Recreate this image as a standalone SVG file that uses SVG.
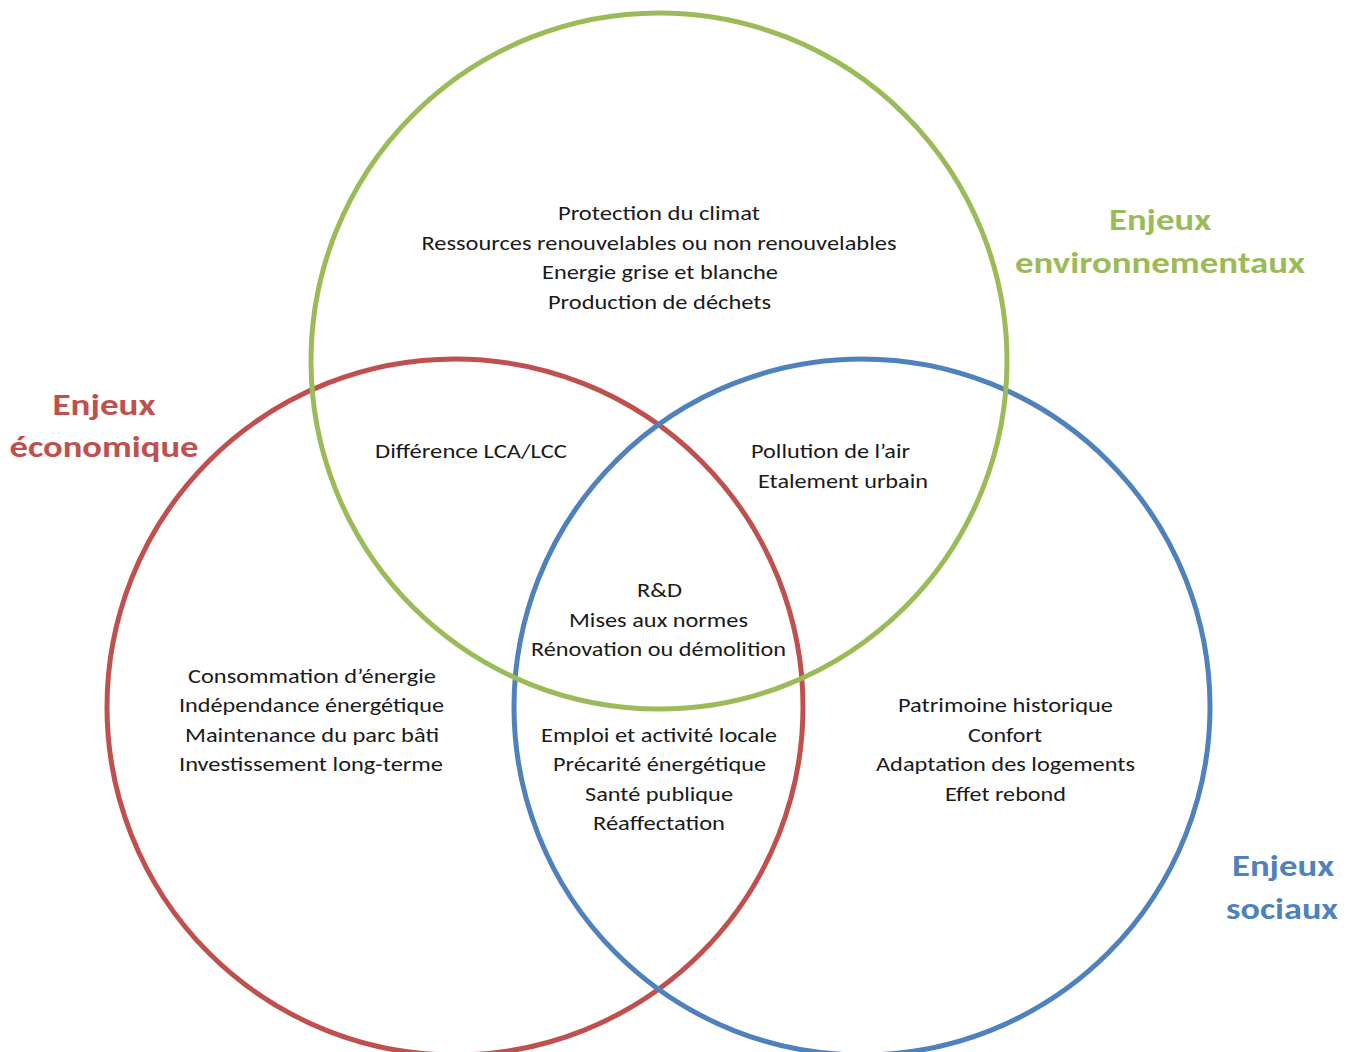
<svg xmlns="http://www.w3.org/2000/svg" width="1354" height="1052" viewBox="0 0 1354 1052">
<style>
.c{fill:none;stroke-width:5}
.t{font-family:Carlito,Lato,"Liberation Sans",sans-serif;font-size:19.5px;fill:#1a1a1a;text-anchor:middle}
.h{font-family:Carlito,Lato,"Liberation Sans",sans-serif;font-size:30px;font-weight:bold;text-anchor:middle}
</style>
<rect width="1354" height="1052" fill="#ffffff"/>
<g id="circles">
<circle id="circle-eco" class="c" cx="455" cy="707" r="348" stroke="#C0504D"/>
<circle id="circle-soc" class="c" cx="862" cy="707" r="348" stroke="#4F81BD"/>
<circle id="circle-env" class="c" cx="659" cy="361" r="348" stroke="#9BBB59"/>
</g>
<g id="label-env" class="h" fill="#9BBB59">
<text x="1160" y="230" textLength="102" lengthAdjust="spacingAndGlyphs">Enjeux</text>
<text x="1160" y="273" textLength="290" lengthAdjust="spacingAndGlyphs">environnementaux</text>
</g>
<g id="label-eco" class="h" fill="#C0504D">
<text x="104" y="415" textLength="103" lengthAdjust="spacingAndGlyphs">Enjeux</text>
<text x="104" y="457" textLength="189" lengthAdjust="spacingAndGlyphs">économique</text>
</g>
<g id="label-soc" class="h" fill="#4F81BD">
<text x="1283" y="876" textLength="102" lengthAdjust="spacingAndGlyphs">Enjeux</text>
<text x="1282" y="919" textLength="112" lengthAdjust="spacingAndGlyphs">sociaux</text>
</g>
<g id="region-env" class="t">
<text x="659" y="220" textLength="202" lengthAdjust="spacingAndGlyphs">Protection du climat</text>
<text x="659" y="249.5" textLength="475" lengthAdjust="spacingAndGlyphs">Ressources renouvelables ou non renouvelables</text>
<text x="660" y="279" textLength="236" lengthAdjust="spacingAndGlyphs">Energie grise et blanche</text>
<text x="659.5" y="308.5" textLength="223" lengthAdjust="spacingAndGlyphs">Production de déchets</text>
</g>
<g id="region-env-eco" class="t">
<text x="471" y="458" textLength="192" lengthAdjust="spacingAndGlyphs">Différence LCA/LCC</text>
</g>
<g id="region-env-soc" class="t">
<text x="830.5" y="458" textLength="159" lengthAdjust="spacingAndGlyphs">Pollution de l’air</text>
<text x="843" y="488" textLength="170" lengthAdjust="spacingAndGlyphs">Etalement urbain</text>
</g>
<g id="region-all" class="t">
<text x="659.5" y="597" textLength="45" lengthAdjust="spacingAndGlyphs">R&amp;D</text>
<text x="658.5" y="627" textLength="179" lengthAdjust="spacingAndGlyphs">Mises aux normes</text>
<text x="658.5" y="656" textLength="255" lengthAdjust="spacingAndGlyphs">Rénovation ou démolition</text>
</g>
<g id="region-eco" class="t">
<text x="312" y="683" textLength="248" lengthAdjust="spacingAndGlyphs">Consommation d’énergie</text>
<text x="311.5" y="712" textLength="265" lengthAdjust="spacingAndGlyphs">Indépendance énergétique</text>
<text x="312" y="742" textLength="254" lengthAdjust="spacingAndGlyphs">Maintenance du parc bâti</text>
<text x="311" y="771" textLength="264" lengthAdjust="spacingAndGlyphs">Investissement long-terme</text>
</g>
<g id="region-eco-soc" class="t">
<text x="659" y="742" textLength="236" lengthAdjust="spacingAndGlyphs">Emploi et activité locale</text>
<text x="659.5" y="771" textLength="213" lengthAdjust="spacingAndGlyphs">Précarité énergétique</text>
<text x="659" y="801" textLength="148" lengthAdjust="spacingAndGlyphs">Santé publique</text>
<text x="659" y="830" textLength="132" lengthAdjust="spacingAndGlyphs">Réaffectation</text>
</g>
<g id="region-soc" class="t">
<text x="1005.5" y="712" textLength="215" lengthAdjust="spacingAndGlyphs">Patrimoine historique</text>
<text x="1005" y="742" textLength="74" lengthAdjust="spacingAndGlyphs">Confort</text>
<text x="1005.5" y="771" textLength="259" lengthAdjust="spacingAndGlyphs">Adaptation des logements</text>
<text x="1005.5" y="801" textLength="121" lengthAdjust="spacingAndGlyphs">Effet rebond</text>
</g>
</svg>
